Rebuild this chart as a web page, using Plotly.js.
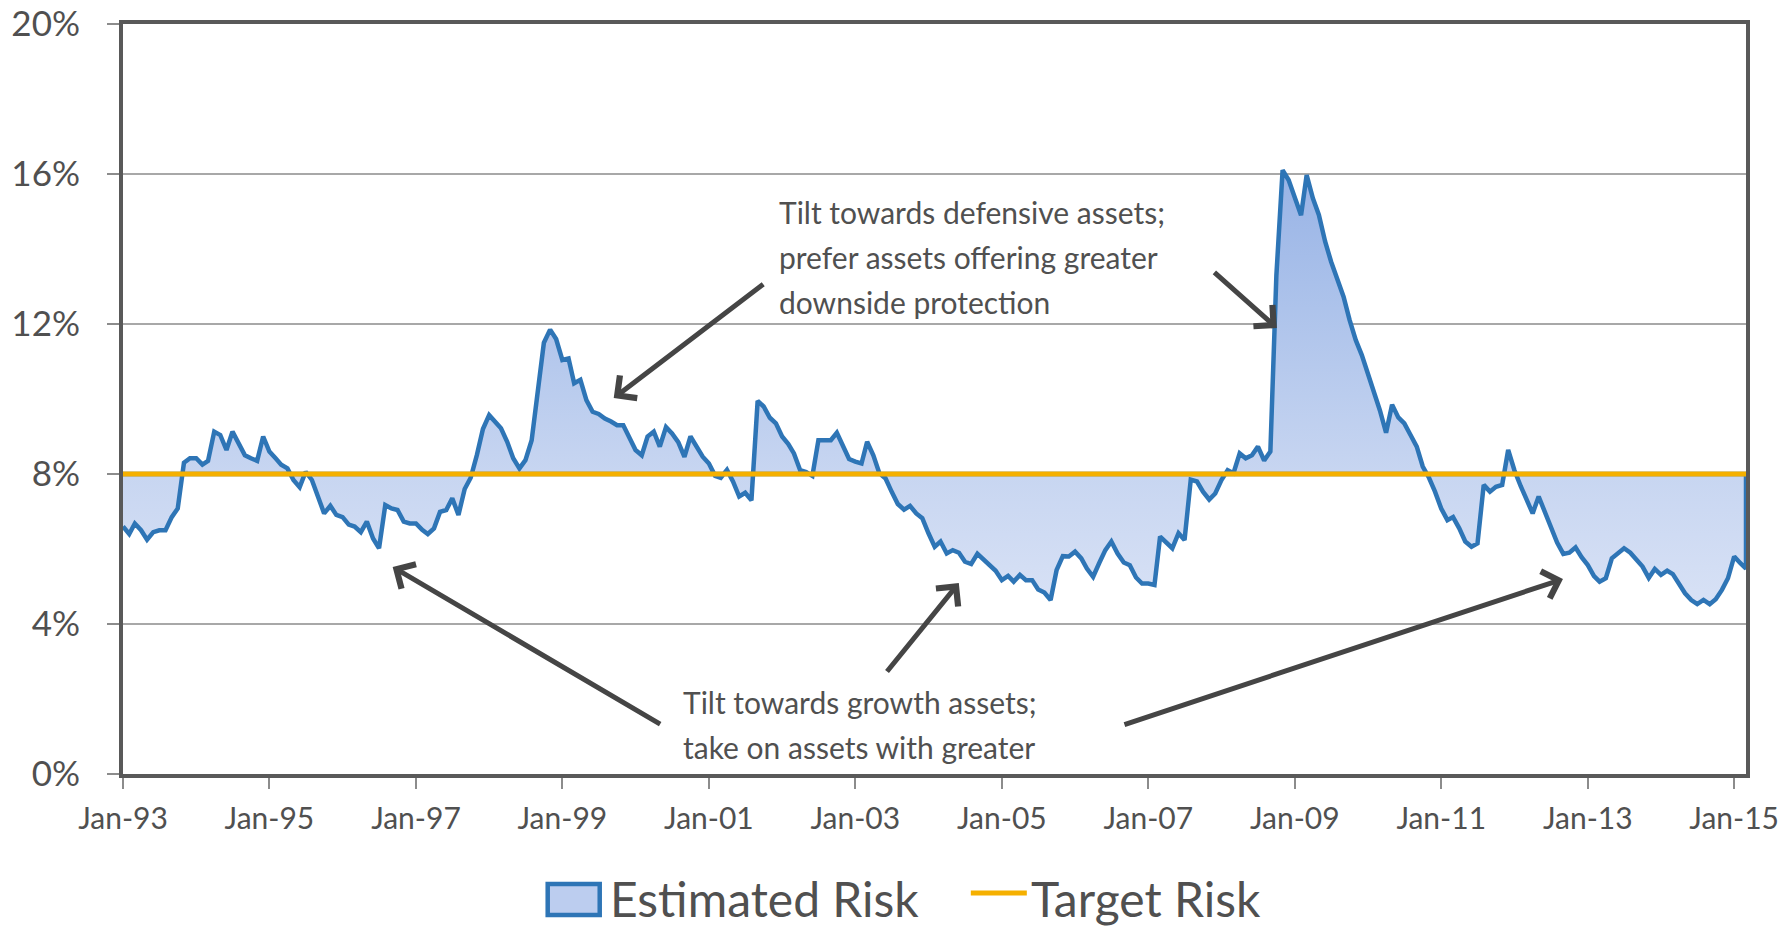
<!DOCTYPE html>
<html>
<head>
<meta charset="utf-8">
<script src="https://cdn.plot.ly/plotly-3.0.1.min.js"></script>
<style>
  html, body { margin: 0; padding: 0; background: #ffffff; }
  #chart { width: 1792px; height: 929px; }
</style>
</head>
<body>
<div id="chart"></div>
<script>
// ---- Data (monthly estimated risk, %) ----
const years = [1993, 1994, 1995, 1996, 1997, 1998, 1999, 2000, 2001, 2002, 2003, 2004,
               2005, 2006, 2007, 2008, 2009, 2010, 2011, 2012, 2013, 2014, 2015];
const r1993 = [6.6, 6.4, 6.68, 6.5, 6.25, 6.45, 6.5, 6.5, 6.85, 7.08, 8.3, 8.42];
const r1994 = [8.42, 8.25, 8.35, 9.13, 9.04, 8.64, 9.13, 8.82, 8.5, 8.42, 8.35, 9.0];
const r1995 = [8.6, 8.42, 8.25, 8.15, 7.84, 7.65, 8.06, 7.84, 7.35, 6.95, 7.15, 6.91];
const r1996 = [6.85, 6.65, 6.6, 6.45, 6.73, 6.28, 6.02, 7.17, 7.08, 7.04, 6.73, 6.68];
const r1997 = [6.68, 6.51, 6.4, 6.55, 6.99, 7.04, 7.35, 6.91, 7.6, 7.9, 8.51, 9.2];
const r1998 = [9.57, 9.4, 9.22, 8.86, 8.42, 8.15, 8.37, 8.9, 10.28, 11.5, 11.85, 11.6];
const r1999 = [11.04, 11.08, 10.42, 10.51, 9.97, 9.66, 9.6, 9.48, 9.4, 9.3, 9.3, 8.95];
const r2000 = [8.64, 8.5, 9.0, 9.13, 8.73, 9.25, 9.08, 8.85, 8.46, 9.0, 8.72, 8.46];
const r2001 = [8.28, 7.95, 7.9, 8.11, 7.8, 7.4, 7.5, 7.3, 9.95, 9.8, 9.5, 9.35];
const r2002 = [9.0, 8.8, 8.55, 8.1, 8.05, 7.95, 8.9, 8.9, 8.9, 9.1, 8.75, 8.4];
const r2003 = [8.33, 8.28, 8.86, 8.5, 8.02, 7.88, 7.53, 7.2, 7.05, 7.15, 6.95, 6.82];
const r2004 = [6.42, 6.06, 6.2, 5.88, 5.97, 5.9, 5.66, 5.6, 5.87, 5.71, 5.57, 5.42];
const r2005 = [5.17, 5.28, 5.13, 5.31, 5.17, 5.17, 4.92, 4.84, 4.64, 5.44, 5.81, 5.8];
const r2006 = [5.93, 5.75, 5.48, 5.26, 5.62, 5.97, 6.2, 5.88, 5.64, 5.57, 5.24, 5.08];
const r2007 = [5.08, 5.04, 6.33, 6.17, 6.02, 6.42, 6.24, 7.85, 7.8, 7.53, 7.32, 7.48];
const r2008 = [7.84, 8.1, 8.02, 8.55, 8.42, 8.5, 8.73, 8.36, 8.6, 13.3, 16.1, 15.84];
const r2009 = [15.33, 14.9, 15.97, 15.35, 14.91, 14.2, 13.66, 13.22, 12.73, 12.11, 11.57, 11.17];
const r2010 = [10.68, 10.2, 9.7, 9.1, 9.85, 9.51, 9.35, 9.04, 8.73, 8.2, 7.9, 7.53];
const r2011 = [7.08, 6.77, 6.85, 6.55, 6.2, 6.06, 6.15, 7.71, 7.53, 7.66, 7.71, 8.64];
const r2012 = [8.1, 7.68, 7.35, 6.95, 7.4, 7.0, 6.61, 6.17, 5.87, 5.9, 6.04, 5.78];
const r2013 = [5.57, 5.28, 5.13, 5.22, 5.75, 5.9, 6.02, 5.9, 5.69, 5.53, 5.23, 5.47];
const r2014 = [5.31, 5.42, 5.33, 5.04, 4.82, 4.64, 4.53, 4.64, 4.53, 4.66, 4.91, 5.22];
const r2015 = [5.8, 5.62, 5.48];
const targetRisk = 8;

const tickDates = ['1993-01-01', '1995-01-01', '1997-01-01', '1999-01-01', '2001-01-01', '2003-01-01',
                   '2005-01-01', '2007-01-01', '2009-01-01', '2011-01-01', '2013-01-01', '2015-01-01'];
const tickLabels = ['Jan-93', 'Jan-95', 'Jan-97', 'Jan-99', 'Jan-01', 'Jan-03',
                    'Jan-05', 'Jan-07', 'Jan-09', 'Jan-11', 'Jan-13', 'Jan-15'];
const yTicks = [0, 4, 8, 12, 16, 20];

const seriesNames = ['Estimated Risk', 'Target Risk'];
const defensiveText = ['Tilt towards defensive assets;', 'prefer assets offering greater', 'downside protection'];
const growthText = ['Tilt towards growth assets;', 'take on assets with greater'];

// ---- Build monthly series ----
const yearly = [r1993, r1994, r1995, r1996, r1997, r1998, r1999, r2000, r2001, r2002, r2003, r2004,
                r2005, r2006, r2007, r2008, r2009, r2010, r2011, r2012, r2013, r2014, r2015];
const dates = [];
const values = [];
years.forEach((yr, i) => {
  yearly[i].forEach((v, j) => {
    dates.push(yr + '-' + String(j + 1).padStart(2, '0') + '-01');
    values.push(v);
  });
});
const first = dates[0], last = dates[dates.length - 1];

// closed polygon between the estimate and the target
const polyX = dates.concat([last, first]);
const polyY = values.concat([targetRisk, targetRisk]);

const FONT = 'Lato, "Open Sans", "DejaVu Sans", sans-serif';
const TXT = '#505050';
const BLUE = '#2E75B6';
const ORANGE = '#F5B000';

const traces = [
  {
    type: 'scatter', mode: 'lines', name: seriesNames[0],
    x: polyX, y: polyY,
    fill: 'toself',
    fillgradient: {
      type: 'vertical',
      start: 4, stop: 17,
      colorscale: [[0, '#dae3f6'], [0.3, '#c8d6f1'], [0.7, '#a9c0ea'], [1, '#93afe4']]
    },
    line: { color: BLUE, width: 4.5 },
    hoverinfo: 'skip', showlegend: false
  },
  {
    type: 'scatter', mode: 'lines', name: seriesNames[1],
    x: [first, last], y: [targetRisk, targetRisk],
    line: { color: ORANGE, width: 5 },
    hoverinfo: 'skip', showlegend: false
  }
];

// pixel helpers for placement (plot area 123.4..1746 x 24..774)
const L = 123.4, R = 1746, T = 24, B = 774;
const px = x => (x - L) / (R - L);
const py = y => (B - y) / (B - T);

const annotations = [];
defensiveText.forEach((t, i) => {
  annotations.push({ xref: 'paper', yref: 'paper', x: px(777), y: py(212 + 45 * i),
    xanchor: 'left', yanchor: 'middle', text: t, showarrow: false,
    font: { family: FONT, size: 30, color: TXT } });
});
growthText.forEach((t, i) => {
  annotations.push({ xref: 'paper', yref: 'paper', x: px(681), y: py(702 + 45 * i),
    xanchor: 'left', yanchor: 'middle', text: t, showarrow: false,
    font: { family: FONT, size: 30, color: TXT } });
});
// arrows: [headX, headY, tailX, tailY] in pixels
const arrows = [
  [614, 398, 765, 283],
  [1277, 328, 1213, 271],
  [393, 567, 662, 725],
  [959, 583, 886, 673],
  [1563, 579, 1123, 725]
];
arrows.forEach(a => {
  annotations.push({ xref: 'paper', yref: 'paper', x: px(a[0]), y: py(a[1]),
    ax: a[2] - a[0], ay: a[3] - a[1], axref: 'pixel', ayref: 'pixel',
    text: '', showarrow: true, arrowhead: 4, arrowsize: 1.1, arrowwidth: 5,
    arrowcolor: '#454545', standoff: 0, startstandoff: 0 });
});

// legend (drawn as shapes + text)
annotations.push({ xref: 'paper', yref: 'paper', x: px(608), y: py(898),
  xanchor: 'left', yanchor: 'middle', text: seriesNames[0], showarrow: false,
  font: { family: FONT, size: 48, color: TXT } });
annotations.push({ xref: 'paper', yref: 'paper', x: px(1029), y: py(898),
  xanchor: 'left', yanchor: 'middle', text: seriesNames[1], showarrow: false,
  font: { family: FONT, size: 48, color: TXT } });
const shapes = [
  { type: 'rect', xref: 'paper', yref: 'paper', layer: 'above',
    x0: px(548), x1: px(600), y0: py(884), y1: py(915),
    fillcolor: '#bccdef', line: { color: BLUE, width: 4.5 } },
  { type: 'line', xref: 'paper', yref: 'paper', layer: 'above',
    x0: px(971), x1: px(1027), y0: py(893), y1: py(893),
    line: { color: ORANGE, width: 5 } }
];

const layout = {
  width: 1792, height: 929,
  margin: { l: 123.4, r: 46, t: 24, b: 155, autoexpand: false },
  paper_bgcolor: '#ffffff', plot_bgcolor: '#ffffff',
  font: { family: FONT, color: TXT },
  showlegend: false,
  xaxis: {
    type: 'date', range: [first, last],
    tickmode: 'array', tickvals: tickDates, ticktext: tickLabels,
    ticks: 'outside', ticklen: 11, tickwidth: 2, tickcolor: '#8c8c8c',
    ticklabelstandoff: 4,
    tickfont: { family: FONT, size: 30, color: TXT },
    showgrid: false, zeroline: false,
    showline: true, linecolor: '#595959', linewidth: 4, mirror: true
  },
  yaxis: {
    range: [0, 20], tickmode: 'array', tickvals: yTicks,
    ticktext: yTicks.map(v => v + '%'),
    ticks: 'outside', ticklen: 12, tickwidth: 2, tickcolor: '#8c8c8c',
    ticklabelstandoff: 20,
    tickfont: { family: FONT, size: 35, color: TXT },
    showgrid: true, gridcolor: '#a8a8a8', gridwidth: 2, zeroline: false,
    showline: true, linecolor: '#595959', linewidth: 4, mirror: true
  },
  annotations: annotations,
  shapes: shapes
};

Plotly.newPlot('chart', traces, layout, { displayModeBar: false, staticPlot: true });
</script>
</body>
</html>
